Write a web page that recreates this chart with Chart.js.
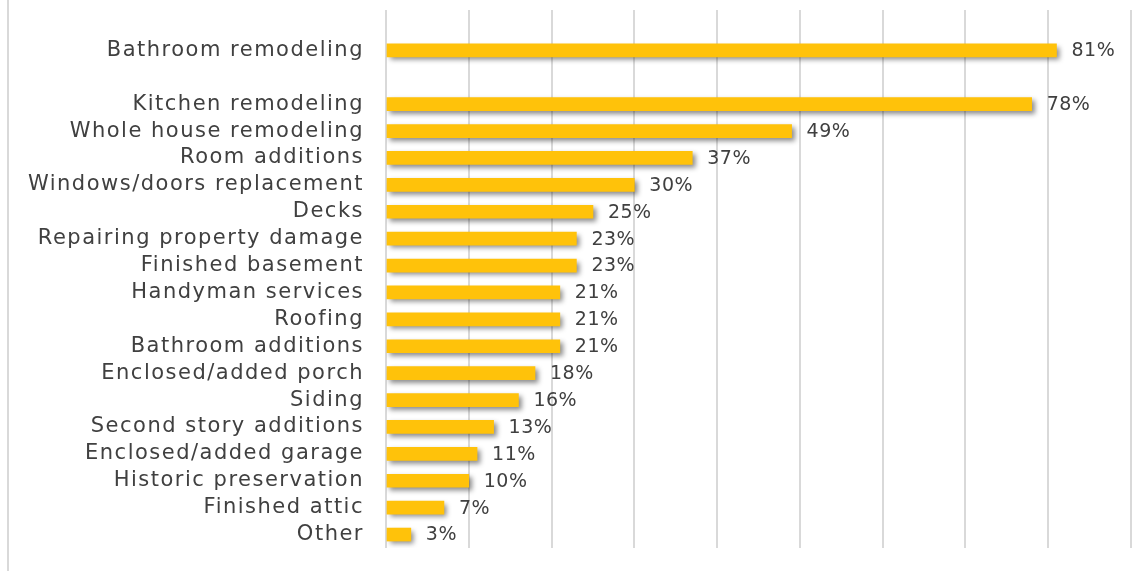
<!DOCTYPE html>
<html>
<head>
<meta charset="utf-8">
<script src="https://cdn.jsdelivr.net/npm/chart.js@4/dist/chart.umd.min.js"></script>
<style>
  html, body { margin: 0; padding: 0; background: #fff; }
  #wrap { position: relative; width: 1145px; height: 571px; }
  #frame { position: absolute; left: 7px; top: 0; width: 2px; height: 571px; background: #d9d9d9; }
  canvas { position: absolute; left: 0; top: 0; }
</style>
</head>
<body>
<div id="wrap">
  <div id="frame"></div>
  <canvas id="chart" width="1145" height="571"></canvas>
</div>
<script>
// categories (blank slots keep the gaps seen in the picture)
const categories = [
    "", "Bathroom remodeling", "", "Kitchen remodeling", "Whole house remodeling",
    "Room additions", "Windows/doors replacement", "Decks", "Repairing property damage",
    "Finished basement", "Handyman services", "Roofing", "Bathroom additions",
    "Enclosed/added porch", "Siding", "Second story additions", "Enclosed/added garage",
    "Historic preservation", "Finished attic", "Other"
];
// percentage of respondents
const shares = [
    null, 81, null, 78, 49, 37, 30, 25, 23, 23, 21, 21, 21, 18, 16, 13, 11, 10, 7, 3
];
const axisMax = 90;
const axisStep = 10;

const FONT = "'DejaVu Sans', sans-serif";
const TEXT = "#404040";

// wider letter spacing for category labels (reference font is a wide geometric face)
const labelSpacing = {
    id: "labelSpacing",
    beforeDraw(chart) { chart.ctx.letterSpacing = "1.5px"; },
    beforeDatasetsDraw(chart) { chart.ctx.letterSpacing = "0px"; }
};

// soft drop shadow under bars
const barShadow = {
    id: "barShadow",
    beforeDatasetsDraw(chart) {
        const ctx = chart.ctx;
        ctx.save();
        ctx.shadowColor = "rgba(0,0,0,0.45)";
        ctx.shadowBlur = 5;
        ctx.shadowOffsetX = 3;
        ctx.shadowOffsetY = 3;
    },
    afterDatasetsDraw(chart) {
        chart.ctx.restore();
    }
};

// percentage labels at the end of each bar
const valueLabels = {
    id: "valueLabels",
    afterDatasetsDraw(chart) {
        const ctx = chart.ctx;
        const meta = chart.getDatasetMeta(0);
        ctx.save();
        ctx.letterSpacing = "0.5px";
        ctx.font = "19px " + FONT;
        ctx.fillStyle = TEXT;
        ctx.textBaseline = "middle";
        ctx.textAlign = "left";
        meta.data.forEach((bar, i) => {
            const v = shares[i];
            if (v === null) return;
            ctx.fillText(v + "%", bar.x + 15, bar.y + 1);
        });
        ctx.restore();
    }
};

new Chart(document.getElementById("chart"), {
    type: "bar",
    data: {
        labels: categories,
        datasets: [{
            data: shares,
            backgroundColor: "#FFC20A",
            borderWidth: 0,
            barThickness: 13
        }]
    },
    options: {
        indexAxis: "y",
        responsive: false,
        animation: false,
        events: [],
        layout: { padding: { left: 0, right: 14, top: 10, bottom: 23 } },
        plugins: {
            legend: { display: false },
            tooltip: { enabled: false }
        },
        scales: {
            x: {
                min: 0,
                max: axisMax,
                ticks: { display: false, stepSize: axisStep },
                grid: { color: "#d9d9d9", lineWidth: 2, drawTicks: false },
                border: { display: false },
                afterFit(scale) { scale.height = 0; }
            },
            y: {
                afterFit(scale) {
                    scale.width = 386;
                    scale.paddingTop = 0;
                    scale.paddingBottom = 0;
                },
                grid: { display: false, drawTicks: false },
                border: { display: false },
                ticks: {
                    autoSkip: false,
                    padding: 22,
                    color: TEXT,
                    font: { family: FONT, size: 21 }
                }
            }
        }
    },
    plugins: [labelSpacing, barShadow, valueLabels]
});
</script>
</body>
</html>
